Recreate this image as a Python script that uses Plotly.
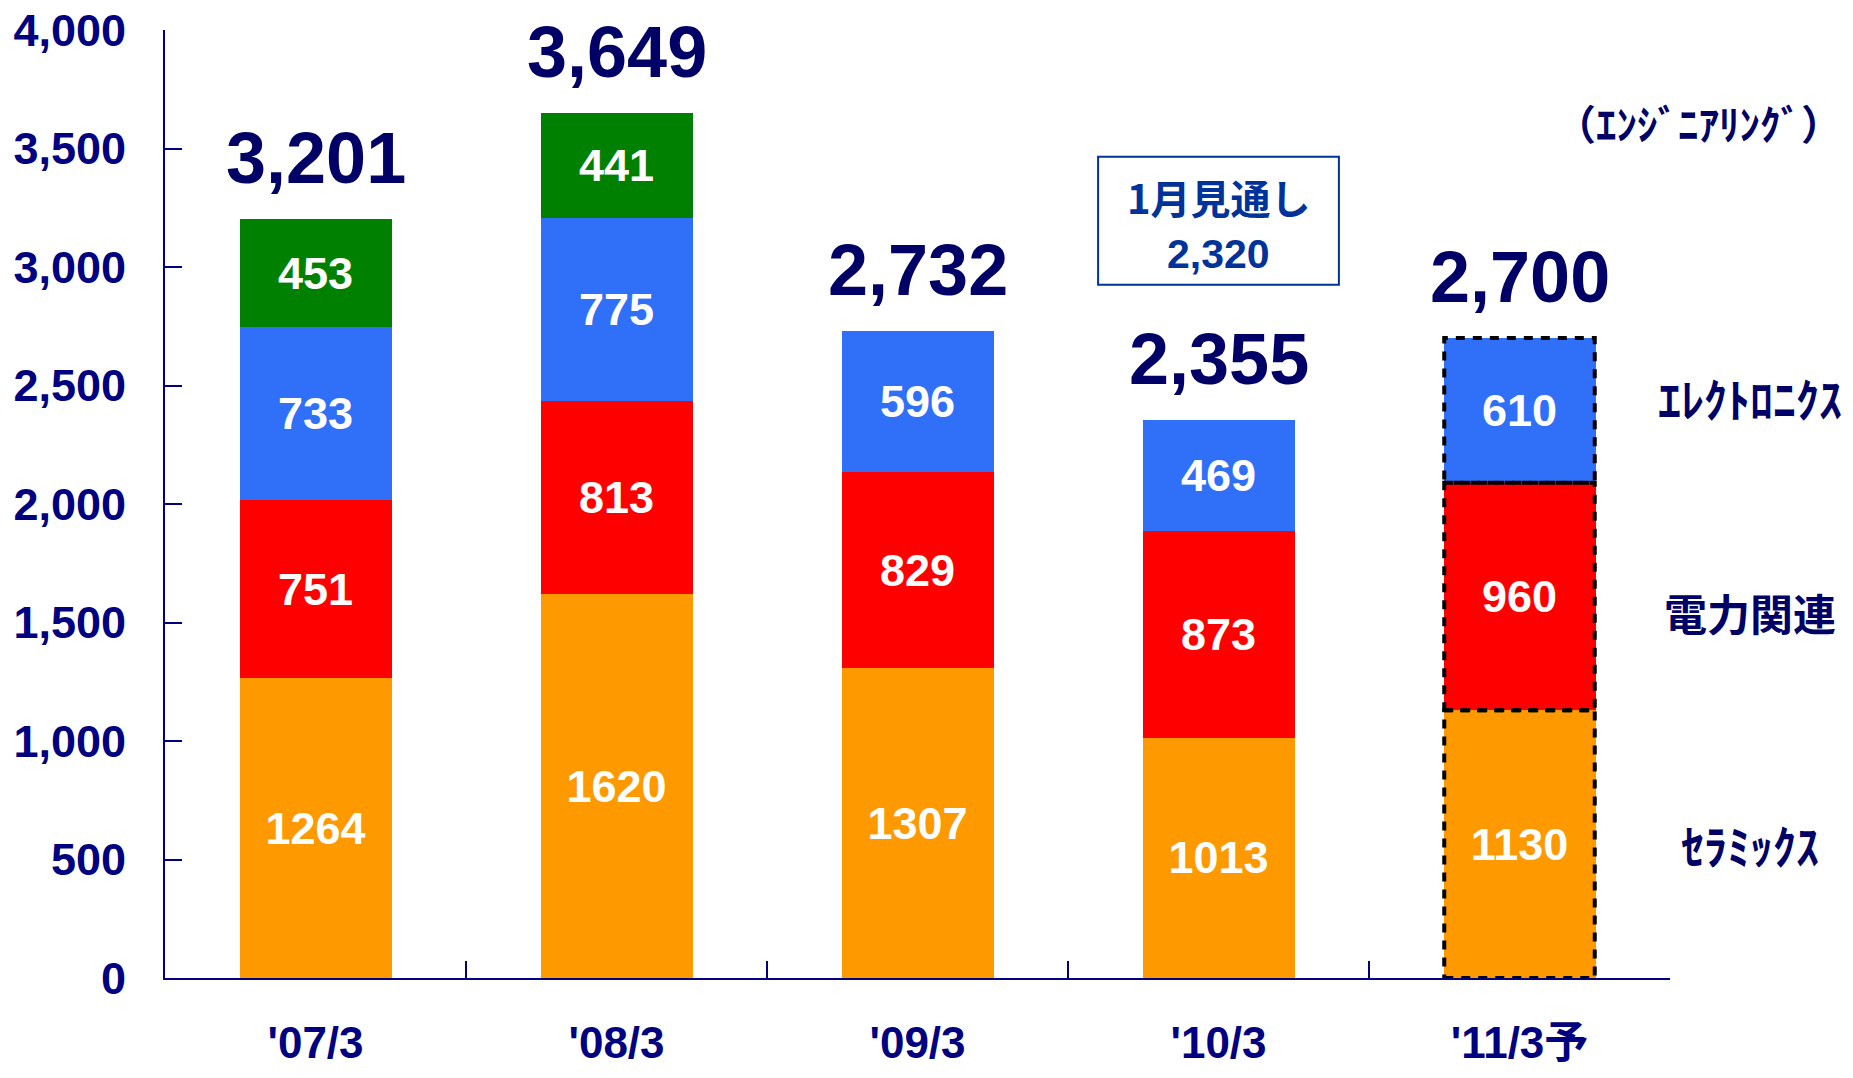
import plotly.graph_objects as go

# fiscal years (last one is forecast)
years = ["'07/3", "'08/3", "'09/3", "'10/3", "'11/3予"]

ceramics = [1264, 1620, 1307, 1013, 1130]
power = [751, 813, 829, 873, 960]
electronics = [733, 775, 596, 469, 610]
engineering = [453, 441, None, None, None]

totals = [3201, 3649, 2732, 2355, 2700]

forecast_label = "1月見通し"
forecast_value = 2320

y_ticks = [0, 500, 1000, 1500, 2000, 2500, 3000, 3500, 4000]

NAVY = "#000080"
DARK = "#000066"
NUM_FONT = "Liberation Sans, Arial, sans-serif"
JP_FONT = "Noto Sans CJK JP, sans-serif"

series = [
    ("セラミックス", ceramics, "#FF9900"),
    ("電力関連", power, "#FF0000"),
    ("エレクトロニクス", electronics, "#3070F8"),
    ("エンジニアリング", engineering, "#008000"),
]

fig = go.Figure()
for name, vals, color in series:
    fig.add_trace(go.Bar(
        x=years,
        y=vals,
        name=name,
        marker=dict(color=color, line=dict(width=0)),
        text=["" if v is None else str(v) for v in vals],
        textposition="inside",
        insidetextanchor="middle",
        textangle=0,
        textfont=dict(family=NUM_FONT, size=45, color="white", weight="bold"),
        hoverinfo="skip",
    ))

# totals above each bar
for i, t in enumerate(totals):
    fig.add_annotation(
        x=years[i], y=t, text=f"{t:,}", showarrow=False,
        yanchor="bottom", yshift=19,
        font=dict(family=NUM_FONT, size=72, color=DARK, weight="bold"),
    )

# dotted outline around the forecast bar's segments
last = len(years) - 1
base = 0
for vals in (ceramics, power, electronics):
    v = vals[last]
    fig.add_shape(
        type="rect", xref="x", yref="y",
        x0=last - 0.25, x1=last + 0.25, y0=base, y1=base + v,
        line=dict(color="black", width=4, dash="9px,8px"),
    )
    base += v

# January outlook box above '10/3
fig.add_shape(
    type="rect", xref="x", yref="y",
    x0=2.6, x1=3.4, y0=2925, y1=3465,
    line=dict(color="#003399", width=2),
    fillcolor="white",
)
fig.add_annotation(
    x=3, y=3297, text=forecast_label, showarrow=False,
    font=dict(family=JP_FONT, size=40, color="#003399", weight="bold"),
)
fig.add_annotation(
    x=3, y=3056, text=f"{forecast_value:,}", showarrow=False,
    font=dict(family=NUM_FONT, size=41, color="#003399", weight="bold"),
)

# segment names on the right
side_labels = [
    ("（ｴﾝｼﾞﾆｱﾘﾝｸﾞ）", 3610, 41, 1.1156, "right"),
    ("ｴﾚｸﾄﾛﾆｸｽ", 2450, 46, 1.053, "center"),
    ("電力関連", 1545, 43, 1.053, "center"),
    ("ｾﾗﾐｯｸｽ", 567, 46, 1.053, "center"),
]
for txt, yv, size, xp, anchor in side_labels:
    fig.add_annotation(
        xref="paper", yref="y", x=xp, y=yv, text=txt, showarrow=False,
        xanchor=anchor,
        font=dict(family=JP_FONT, size=size, color=DARK, weight="bold"),
    )

# page body adds 8px around the plot, so the figure is 16px smaller
fig.update_layout(
    barmode="stack",
    bargap=0.495,
    showlegend=False,
    width=1837,
    height=1062,
    margin=dict(l=157, r=175, t=22, b=92),
    plot_bgcolor="white",
    paper_bgcolor="white",
)
fig.update_xaxes(
    type="category",
    range=[-0.5, len(years) - 0.5],
    automargin=False,
    showline=True, linecolor=NAVY, linewidth=2,
    ticks="inside", tickson="boundaries", ticklen=17, tickcolor=NAVY, tickwidth=2,
    ticklabelstandoff=25,
    tickfont=dict(family=NUM_FONT + ", Noto Sans CJK JP", size=44, color=NAVY, weight="bold"),
    showgrid=False, zeroline=False,
)
fig.update_yaxes(
    range=[0, 4000],
    automargin=False,
    tickvals=y_ticks,
    tickformat=",",
    ticklabeloverflow="allow",
    showline=True, linecolor=NAVY, linewidth=2,
    ticks="inside", ticklen=17, tickcolor=NAVY, tickwidth=2,
    ticklabelstandoff=28,
    tickfont=dict(family=NUM_FONT, size=45, color=NAVY, weight="bold"),
    showgrid=False, zeroline=False,
)

fig.write_html("out.html")
